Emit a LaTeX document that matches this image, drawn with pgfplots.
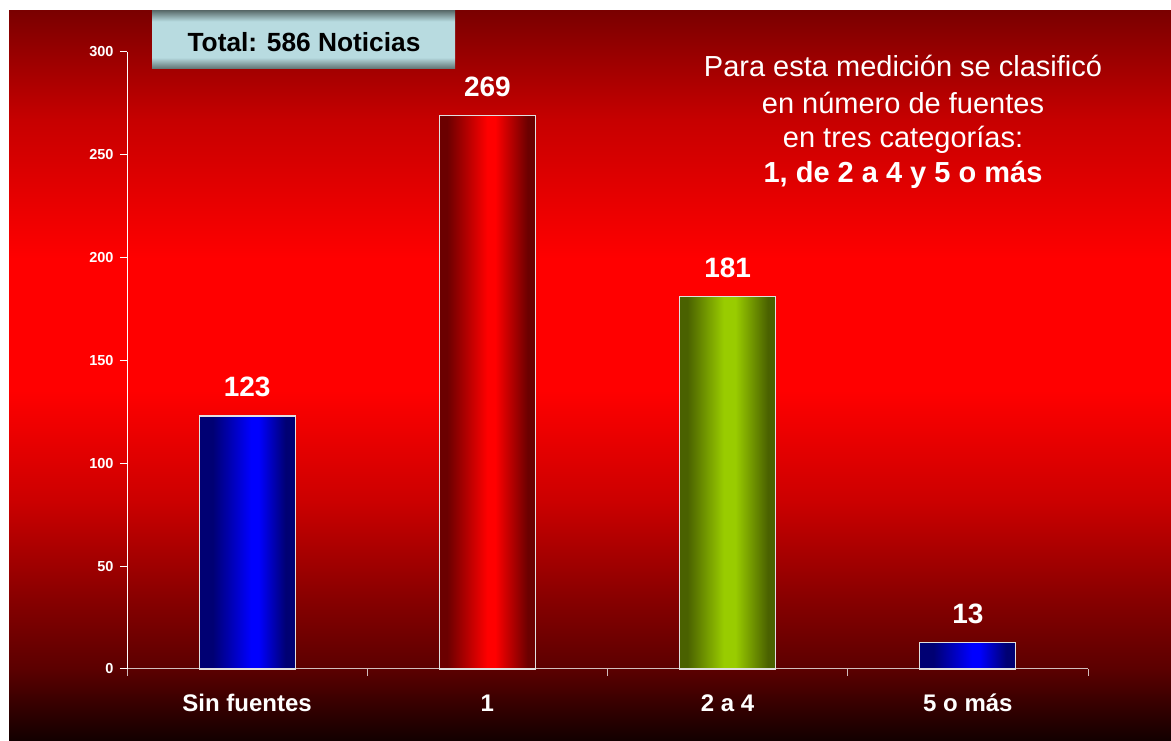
\documentclass[border=0pt]{standalone}
\usepackage{fontspec}
\setmainfont{Liberation Sans}
\usepackage{pgfplots}
\pgfplotsset{compat=1.18}

\definecolor{bg0}{rgb}{0.07,0,0}
\definecolor{bg1}{rgb}{0.36,0,0}
\definecolor{bg2}{rgb}{0.53,0,0}
\definecolor{bg3}{rgb}{0.80,0,0}
\definecolor{bg4}{rgb}{1,0,0}
\definecolor{bg5}{rgb}{1,0,0}
\definecolor{bg6}{rgb}{0.78,0,0}
\definecolor{bg7}{rgb}{0.48,0,0}
\pgfdeclareverticalshading{bgshade}{100bp}{color(0bp)=(bg0); color(25bp)=(bg0); color(30bp)=(bg1); color(34.7bp)=(bg2); color(41.5bp)=(bg3); color(49bp)=(bg4); color(58bp)=(bg5); color(67.5bp)=(bg6); color(75bp)=(bg7); color(100bp)=(bg7)}

\definecolor{tdark}{rgb}{0.37,0.44,0.44}
\definecolor{tlight}{rgb}{0.72,0.86,0.88}
\pgfdeclareverticalshading{titleshade}{100bp}{color(0bp)=(tdark); color(25bp)=(tdark); color(35bp)=(tlight); color(66bp)=(tlight); color(75bp)=(tdark); color(100bp)=(tdark)}

\definecolor{bluedark}{rgb}{0,0,0.45}
\definecolor{bluebright}{rgb}{0,0,1}
\definecolor{reddark}{rgb}{0.42,0,0}
\definecolor{redbright}{rgb}{1,0,0}
\definecolor{greendark}{rgb}{0.29,0.38,0}
\definecolor{greenbright}{rgb}{0.60,0.80,0}
\pgfdeclarehorizontalshading{blueshade}{100bp}{color(0bp)=(bluedark); color(25bp)=(bluedark); color(32bp)=(bluedark); color(52bp)=(bluebright); color(56bp)=(bluebright); color(70bp)=(bluedark); color(100bp)=(bluedark)}
\pgfdeclarehorizontalshading{redshade}{100bp}{color(0bp)=(reddark); color(25bp)=(reddark); color(29bp)=(reddark); color(50bp)=(redbright); color(54bp)=(redbright); color(71bp)=(reddark); color(100bp)=(reddark)}
\pgfdeclarehorizontalshading{greenshade}{100bp}{color(0bp)=(greendark); color(25bp)=(greendark); color(29bp)=(greendark); color(48bp)=(greenbright); color(54bp)=(greenbright); color(71bp)=(greendark); color(100bp)=(greendark)}

\definecolor{xaxcol}{rgb}{0.82,0.74,0.74}
\definecolor{baredge}{rgb}{0.88,0.88,0.88}

\begin{document}
\begin{tikzpicture}
\path[use as bounding box] (0pt,0pt) rectangle (1171pt,741pt);
\shade[shading=bgshade] (9pt,0pt) rectangle (1171pt,730pt);
\shade[shading=titleshade] (152pt,672pt) rectangle (455pt,730pt);
\node[anchor=base, inner sep=0pt, text=black, font=\bfseries\fontsize{26.3}{28}\selectfont] at (304pt,689.5pt) {Total: 586 Noticias};

\node[anchor=base, inner sep=0pt, text=white, font=\fontsize{29}{33}\selectfont] at (903pt,664pt) {Para esta medición se clasificó};
\node[anchor=base, inner sep=0pt, text=white, font=\fontsize{29}{33}\selectfont] at (903pt,627pt) {en número de fuentes};
\node[anchor=base, inner sep=0pt, text=white, font=\fontsize{29}{33}\selectfont] at (903pt,593pt) {en tres categorías:};
\node[anchor=base, inner sep=0pt, text=white, font=\bfseries\fontsize{29}{33}\selectfont] at (903pt,558pt) {1, de 2 a 4 y 5 o más};

\begin{axis}[
  at={(127pt,72pt)}, anchor=south west,
  scale only axis, width=961pt, height=617pt,
  xmin=-0.5, xmax=3.5, ymin=0, ymax=300,
  axis lines*=left,
  x axis line style={draw=xaxcol, line width=1pt},
  y axis line style={draw=white, line width=1pt},
  tick align=outside,
  major tick length=7pt,
  xtick={-0.5,0.5,1.5,2.5,3.5}, xticklabels={},
  extra x ticks={0,1,2,3},
  extra x tick labels={Sin fuentes,1,2 a 4,5 o más},
  extra x tick style={major tick length=0pt},
  xticklabel style={font=\bfseries\fontsize{24}{26}\selectfont, text=white, text height=18pt, text depth=5pt, yshift=-21pt},
  xtick style={draw=xaxcol, line width=1pt},
  ytick={0,50,...,300},
  yticklabel style={font=\bfseries\fontsize{14.5}{16}\selectfont, text=white, xshift=-3pt},
  ytick style={draw=white, line width=1pt},
  /pgf/number format/assume math mode=true,
  ybar, bar width=96pt,
  nodes near coords,
  every node near coord/.append style={font=\bfseries\fontsize{28}{30}\selectfont, text=white, yshift=15pt},
  clip=false,
]
\addplot[bar shift=0pt, shade, shading=blueshade, draw=baredge, line width=1.2pt] coordinates {(0,123)};
\addplot[bar shift=0pt, shade, shading=redshade, draw=baredge, line width=1.2pt] coordinates {(1,269)};
\addplot[bar shift=0pt, shade, shading=greenshade, draw=baredge, line width=1.2pt] coordinates {(2,181)};
\addplot[bar shift=0pt, shade, shading=blueshade, draw=baredge, line width=1.2pt] coordinates {(3,13)};
\end{axis}
\end{tikzpicture}
\end{document}
